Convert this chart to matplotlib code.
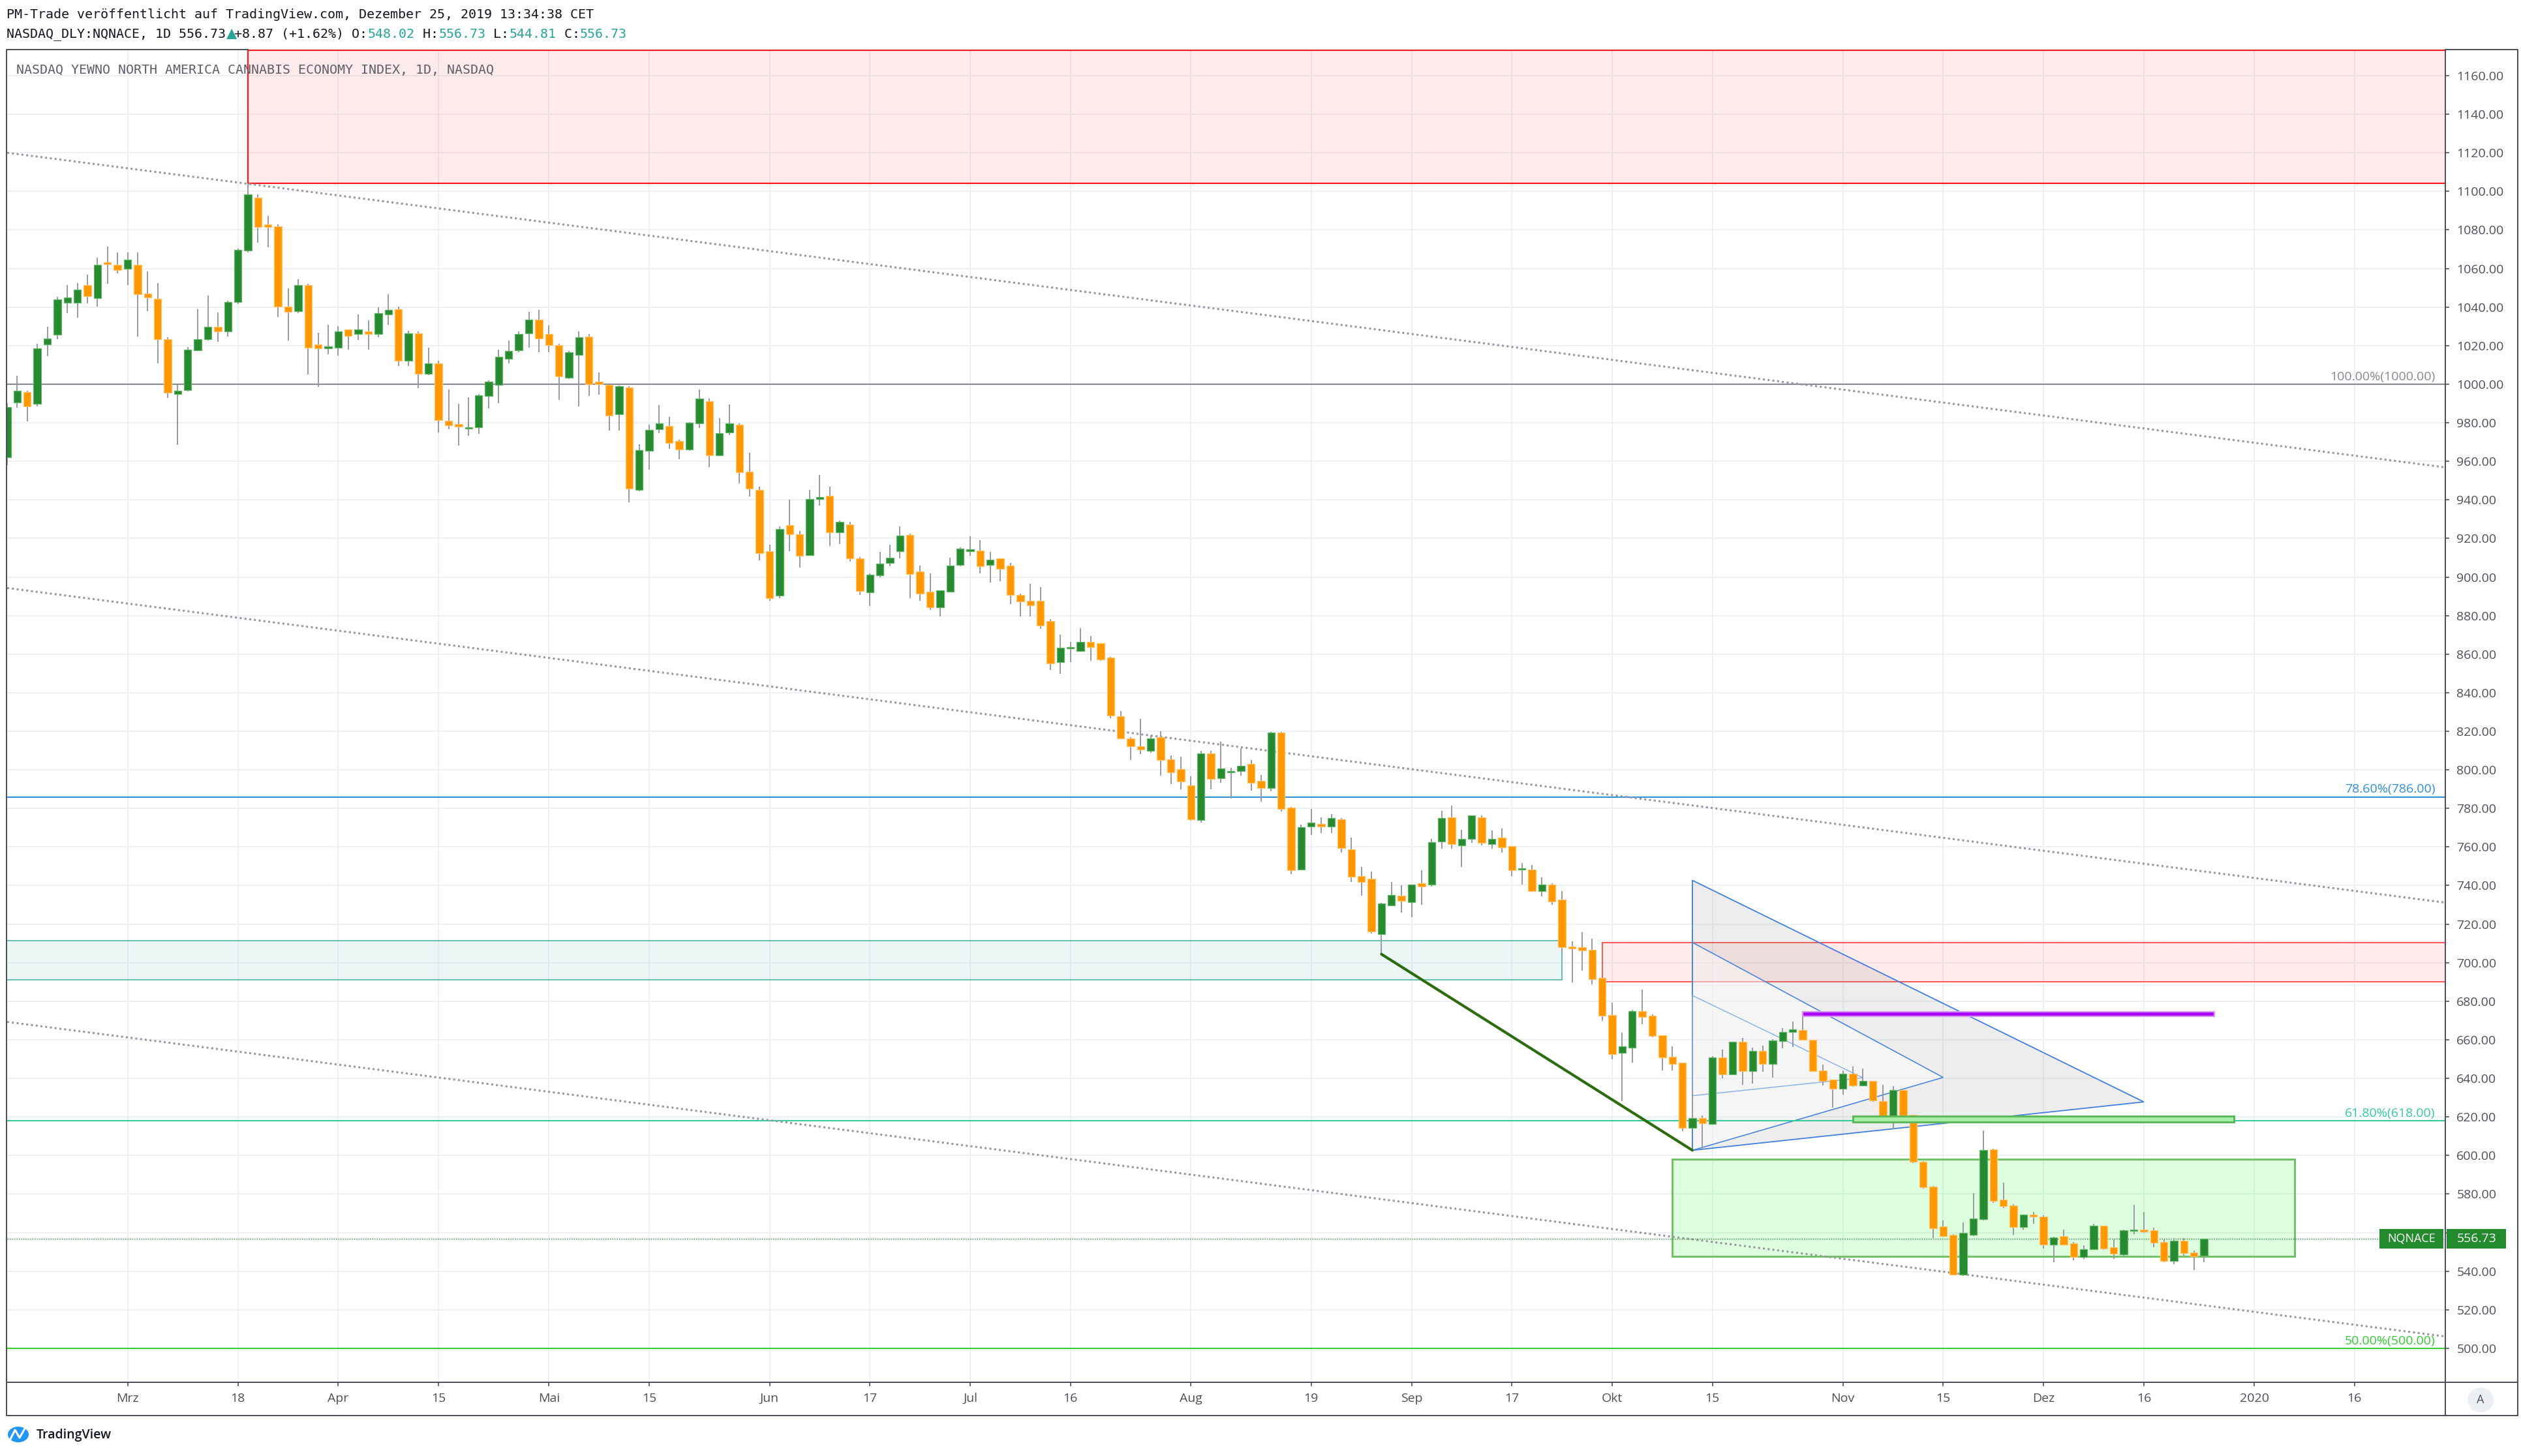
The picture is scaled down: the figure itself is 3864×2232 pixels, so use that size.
import matplotlib as mpl
mpl.use('Agg')
import matplotlib.pyplot as plt
from matplotlib.patches import Rectangle, Polygon, Ellipse
from matplotlib.lines import Line2D
from matplotlib.transforms import IdentityTransform
import numpy as np
import pandas as pd

# ---------------- data ----------------
holidays = ['2019-02-18', '2019-04-19', '2019-05-27', '2019-07-04', '2019-09-02',
            '2019-11-28', '2019-12-25', '2020-01-01', '2020-01-20']
cal = pd.bdate_range('2019-02-12', '2020-01-31', freq='C', holidays=holidays)
pos = {d.strftime('%Y-%m-%d'): i for i, d in enumerate(cal)}

opens = [
    962, 990.5, 995.9, 989.8, 1020.6, 1025.7, 1042.2, 1042.2, 1051.5, 1044.5, 1063.2, 1061.9,
    1059.7, 1061.9, 1047.1, 1044.4, 1023.2, 995, 996.9, 1017.5, 1023.2, 1029.6, 1027.4, 1042.6, 1069.2, 1096.7, 1083, 1081.9, 1040.2, 1038, 1051.5, 1020.7, 1018.7,
    1019, 1028.3, 1026.1, 1027.4, 1026.1, 1036, 1039, 1012, 1026.5, 1005.5, 1010.7, 981.1, 979.4, 976.8, 977.5, 994, 999.7, 1013.3, 1017.4, 1026.4, 1033.6,
    1025.9, 1020.3, 1003.2, 1015.2, 1024.8, 1001.4, 999.5, 984.3, 998.4, 945.2, 965.4, 976.6, 978.2, 970.6, 966, 979.6, 991.3, 963.1, 974.9, 978.9, 954.7, 945.1,
    913.2, 890.2, 926.8, 922, 911.5, 940.5, 942.2, 923.3, 927.2, 909.5, 892, 900.8, 907.4, 913.3, 921.9, 903, 892.4, 884.3, 892.5, 906.1,
    913.3, 913.8, 906.1, 909.5, 905.9, 890.7, 887.6, 887.6, 877.1, 855.9, 863, 861.6, 866.4, 865.7, 858.1, 827.8, 816.2, 812.3, 809.9, 816.8, 805.6, 800.5,
    792, 774, 808.4, 795.8, 798.7, 799.4, 803.2, 794.4, 790.6, 819.3, 780.3, 748.4, 770.5, 771.9, 770.5, 774.3, 758.9, 744.8, 743.6, 714.9, 729.7, 734.8,
    731.5, 741.2, 740.6, 762.7, 775.4, 760.8, 764.3, 775.4, 761.5, 764.7, 760.6, 748.3, 748.3, 737.1, 740.6, 732.8, 708.5, 707.9, 706.8, 692,
    673, 653.2, 656.1, 674.9, 672.6, 662.3, 651.1, 648.3, 614.3, 619.3, 616.5, 650.7, 642.2, 658.9, 643.9, 654.3, 647.5, 659.3, 664.1, 665, 660, 644.2, 639.4,
    634.5, 642.4, 636.3, 638.8, 628.1, 617.4, 634.1, 621, 596.8, 583.8, 563.4, 559, 538.2, 558.9, 567, 603, 577.1, 574.1, 563, 569.4,
    568.3, 553.7, 558.2, 554.6, 547.2, 551.4, 563.6, 552.3, 548.7, 560.8, 561.7, 561.1, 555.1, 545.2, 555.7, 549.8, 548.02,
]
highs = [
    990, 1004.5, 996.5, 1021, 1029.7, 1045.4, 1051.5, 1052.5, 1056.8, 1065.6, 1071.4, 1068.3,
    1068.3, 1068.3, 1058.6, 1052.5, 1024.2, 999.7, 1019.4, 1039, 1046, 1037.3, 1043.2, 1070.3, 1104, 1098.5, 1087.3, 1082.8, 1049.7, 1054.4, 1051.9, 1026.8, 1030.9,
    1030.2, 1028.4, 1036, 1033.2, 1039.9, 1046.7, 1040.3, 1027.8, 1027.2, 1019, 1012, 997.4, 989.7, 993.3, 995, 1001.9, 1017.8, 1022.7, 1027.2, 1037.5, 1038.6,
    1030.4, 1021, 1017.1, 1027.2, 1026.1, 1006.2, 999.7, 999.4, 999, 968.8, 978.9, 989, 983.1, 971.3, 980.5, 997.3, 992.4, 982.5, 989.6, 979.5, 964.3, 946.8,
    916.8, 926.3, 940, 924, 945.3, 953, 947, 929.3, 928.5, 910.2, 901.8, 913.1, 916.7, 926.2, 922.5, 905.9, 901.8, 892.9, 910.1, 915.4,
    921, 919.1, 913.1, 909.5, 907.3, 891.4, 896.6, 894.9, 878.2, 870.1, 866.4, 873.6, 869.4, 865.7, 858.6, 830.4, 817.1, 826.4, 817.9, 819.9, 807.4, 806.8,
    796.8, 809.9, 809.9, 814.7, 801, 811.1, 805, 797.4, 819.7, 819.7, 780.9, 771.5, 779.7, 775.5, 777, 774.9, 765, 749.6, 747.2, 731.2, 741.8, 740,
    740.6, 747.8, 764.3, 778.7, 781.6, 769, 776.2, 776.2, 768.5, 769.7, 760.6, 751.8, 750.6, 744.3, 741.2, 737.1, 711.2, 715.8, 712.4, 692,
    679.2, 663.6, 675.5, 686.1, 673.2, 662.3, 656.7, 648.3, 634.3, 620.6, 651.5, 655, 658.9, 661, 656, 657.1, 660.2, 666.1, 669.6, 674.3, 660, 647.3, 639.4,
    644.2, 646.2, 645, 638.8, 636.6, 636, 634.1, 621, 597.2, 584.1, 566.4, 559.3, 565.2, 580.6, 613, 603.6, 585.9, 574.6, 569.4, 570.6,
    568.9, 558, 561.7, 555.1, 553.4, 564.7, 563.6, 556.6, 561.7, 574.3, 570.7, 562.5, 556.5, 557, 557, 550.6, 556.73,
]
lows = [
    958, 987.8, 980.8, 988.4, 1014.5, 1023.3, 1037, 1034.5, 1042, 1040.3, 1051.9, 1057.4,
    1051.5, 1024.5, 1038, 1010.9, 992.7, 968.5, 996.3, 1017.5, 1022.7, 1022, 1024.5, 1041.6, 1068.3, 1073.4, 1070.9, 1034.9, 1022.7, 1037, 1004.9, 998.5, 1015.6,
    1014.9, 1017.8, 1022.9, 1017.8, 1024.2, 1030.6, 1009.4, 1009.4, 997.8, 1004.6, 975, 976.6, 968, 973.1, 974.4, 987.5, 990.1, 1010.9, 1016.7, 1019, 1016.7,
    1016.7, 992, 1002.7, 988.5, 993.8, 994.4, 976.1, 976.1, 938.7, 944.5, 955.8, 974.7, 966.4, 961.2, 965.5, 977.2, 956.9, 963.1, 973.6, 948.7, 941.7, 908.7,
    887.8, 889.1, 913.3, 904.8, 910.9, 936.9, 916.1, 917.2, 907.8, 890.7, 884.9, 900, 905.5, 909.6, 889, 887.6, 883, 879.4, 892.5, 905.5,
    910.9, 901.8, 897.2, 897.9, 886.1, 879.4, 879.4, 873, 851.7, 849.8, 855.9, 861.3, 856.4, 856.4, 826.7, 815.9, 805, 808, 808.7, 797, 792.6, 790,
    773.7, 772.7, 790, 793.3, 785.2, 797, 789.1, 783.3, 789, 778.5, 746, 747.8, 766.1, 767.3, 767.3, 757.2, 742, 734.9, 715.3, 704.4, 729.7, 726.1,
    723.7, 729.9, 739.6, 759.1, 759.1, 749.6, 762.1, 760.8, 759.1, 757.2, 745, 740.6, 737.1, 734.3, 729.9, 705.5, 689.9, 695.8, 688.6, 669.9,
    650, 628.2, 648.3, 668, 661.3, 644.2, 644.2, 612.5, 614.3, 603, 615.9, 640.2, 642.2, 636.8, 637.4, 643.3, 640.3, 655.7, 656.3, 659.9, 643.9, 636.3, 624.7,
    631.5, 635.7, 636.3, 627.8, 616.8, 613.8, 617.4, 596, 583, 557, 557.7, 538, 537.6, 558.2, 566.4, 575.4, 572.6, 558.9, 561.7, 564.7,
    551.7, 544.6, 553.7, 545.8, 546.4, 551.4, 551.2, 546.4, 547.8, 559.3, 560, 552.3, 544.6, 543.5, 548, 540.5, 544.81,
]
closes = [
    988, 996.5, 988.5, 1018.4, 1023.8, 1043.8, 1044.8, 1048.9, 1045.8, 1061.9, 1062.2, 1059.2,
    1064.7, 1046.7, 1045, 1023.3, 995.6, 996.5, 1017.8, 1023.2, 1029.6, 1027.4, 1042.5, 1069.6, 1098.5, 1081.5, 1081.5, 1040.3, 1037.5, 1051.5, 1019, 1018.7, 1019.7,
    1027.2, 1025.1, 1028.3, 1026.1, 1036.7, 1038.4, 1012, 1026.5, 1005.5, 1010.7, 981.5, 978.5, 978.1, 977.2, 994.2, 1001.3, 1014.3, 1017.1, 1026.1, 1033.6, 1023.8,
    1020.3, 1003.9, 1016.5, 1024.2, 1000, 999.8, 983.8, 999, 945.9, 965.8, 976.4, 979.5, 969.6, 966, 980, 992.4, 963.1, 974.6, 979.5, 954.2, 945.9, 912.2,
    889.1, 925, 922.2, 910.9, 940.4, 941.6, 923.3, 928.6, 909.7, 892.6, 901.3, 907.1, 910.1, 921.4, 901.5, 891.4, 884.3, 892.9, 905.9, 914.8,
    914.4, 905.5, 909, 904.3, 890.7, 887.3, 885.4, 874.8, 855.3, 863.3, 863.5, 866.4, 863.6, 857.1, 828.1, 816.3, 812.3, 810.5, 816.2, 805, 798.7, 794,
    774.3, 808.4, 795.2, 800.8, 799.1, 802, 793.3, 790.6, 819.3, 779.7, 747.8, 770.3, 772.5, 770.5, 774.9, 759.3, 744.4, 742, 716.1, 730.6, 735.2, 732.1,
    740.6, 739.6, 762.5, 775, 761.5, 764.2, 776.2, 762.2, 764.2, 759.7, 748.1, 749, 737.1, 740.6, 731.8, 708, 707.5, 706.4, 691.5, 672.6,
    652.6, 656.5, 674.9, 672, 662, 650.7, 647.5, 614.3, 619.3, 616.7, 650.7, 642.2, 658.9, 643.9, 654.3, 647.5, 659.5, 664.2, 665.5, 659.9, 643.9, 638.6, 634.5,
    642.4, 636.3, 638.8, 628.5, 618, 634.1, 620.8, 596.6, 583.4, 562.3, 558.1, 538.2, 559.8, 567.4, 602.9, 576.6, 573.7, 563, 569.4, 568.3,
    553.7, 557.4, 553.7, 547.2, 551.5, 563.6, 551.7, 548.9, 561.1, 561.7, 560.7, 554.8, 545.2, 555.7, 549.5, 547.8, 556.73,
]
assert len(opens) == len(highs) == len(lows) == len(closes) == 220

tick_dates = ['2019-03-01', '2019-03-18', '2019-04-01', '2019-04-15', '2019-05-01', '2019-05-15',
              '2019-06-03', '2019-06-17', '2019-07-01', '2019-07-16', '2019-08-01', '2019-08-19',
              '2019-09-03', '2019-09-17', '2019-10-01', '2019-10-15', '2019-11-01', '2019-11-15',
              '2019-12-02', '2019-12-16', '2020-01-02', '2020-01-16']
tick_labels = ['Mrz', '18', 'Apr', '15', 'Mai', '15', 'Jun', '17', 'Jul', '16', 'Aug', '19',
               'Sep', '17', 'Okt', '15', 'Nov', '15', 'Dez', '16', '2020', '16']

fib_prices = [1000, 786, 618, 500]
fib_texts = ['100.00%(1000.00)', '78.60%(786.00)', '61.80%(618.00)', '50.00%(500.00)']
fib_colors = ['#868993', '#2f8fd8', '#36c99a', '#33cc33']

# zones: (start date, end date, low, high); None = runs off the chart edge
red_zone_top = ('2019-03-19', None, 1104.2, 1173.0)
red_zone_mid = ('2019-09-30', None, 690.1, 710.3)
teal_zone = (None, '2019-09-24', 691.1, 711.4)
green_zone = ('2019-10-09', '2020-01-08', 547.8, 598.0)
green_strip = ('2019-11-04', '2019-12-30', 617.4, 620.3)
purple_strip = ('2019-10-28', '2019-12-26', 672.3, 674.4)

trend_dates = ['2019-08-28', '2019-10-11']
trend_prices = [704.4, 602.7]

# dotted channel: price of each line on two anchor dates
channel_dates = ['2019-02-12', '2019-12-24']
channel_prices = [(1120.0, 973.0), (894.3, 747.3), (669.3, 522.3)]

tri_big = [('2019-10-11', 742.7), ('2019-12-16', 627.8), ('2019-10-11', 602.7)]
tri_mid = [('2019-10-11', 710.5), ('2019-11-15', 640.5), ('2019-10-11', 602.7)]
tri_small = [('2019-10-11', 683.0), ('2019-11-05', 640.3), ('2019-10-11', 631.0)]

# ---------------- figure ----------------
plt.rcParams['font.family'] = ['Open Sans', 'DejaVu Sans']
W, H = 3864, 2232
fig = plt.figure(figsize=(W / 100, H / 100), dpi=100)
fig.patch.set_facecolor('white')

L, R, T, B = 11, 3748, 76, 2119
ax = fig.add_axes([L / W, 1 - B / H, (R - L) / W, (B - T) / H])
ax.set_xlim(0, (R - L) / 15.375)
ax.set_ylim(482.4, 1173.5)
xl = ax.get_xlim()
for s in ax.spines.values():
    s.set_visible(False)

axis_col = '#50535e'
ax.set_xticks([pos[d] for d in tick_dates])
ax.set_xticklabels(tick_labels)
ax.set_yticks(np.arange(500, 1161, 20))
ax.set_yticklabels(['%.2f' % v for v in np.arange(500, 1161, 20)])
ax.yaxis.tick_right()
ax.tick_params(axis='x', direction='out', length=4.5, width=1.2, color=axis_col,
               labelcolor='#4c4f59', labelsize=14, pad=7)
ax.tick_params(axis='y', direction='out', length=4.5, width=1.2, color=axis_col,
               labelcolor='#4c4f59', labelsize=14, pad=8)
ax.grid(True, color='#edf1f6', lw=1.4)
ax.set_axisbelow(True)


def xr(d, default):
    return default if d is None else pos[d]


def zone(z, fc, ec, lw, zo=1.5):
    x_a = xr(z[0], xl[0] - 5)
    x_b = xr(z[1], xl[1] + 5)
    ax.add_patch(Rectangle((x_a, z[2]), x_b - x_a, z[3] - z[2], facecolor=fc,
                           edgecolor=ec, lw=lw, zorder=zo))


zone(red_zone_top, (1, 0, 0, 0.08), '#ff1a1a', 1.6)
zone(red_zone_mid, (1, 0, 0, 0.08), '#ff3b3b', 1.2)
zone(teal_zone, (0.15, 0.65, 0.6, 0.09), '#4fb3a9', 1.2)
zone(green_zone, (0.0, 1.0, 0.0, 0.13), '#6abf5e', 2.0)

# fib levels
for p, t, c in zip(fib_prices, fib_texts, fib_colors):
    ax.axhline(p, color=c, lw=1.5, zorder=2)
    ax.annotate(t, xy=(1, p), xycoords=('axes fraction', 'data'), xytext=(-11, 1.5),
                textcoords='offset points', ha='right', va='bottom', color=c, fontsize=14)

# dotted channel lines
a0, a1 = pos[channel_dates[0]], pos[channel_dates[1]]
for p0, p1 in channel_prices:
    k = (p1 - p0) / (a1 - a0)
    ax.plot([xl[0], xl[1]], [p0 + k * (xl[0] - a0), p0 + k * (xl[1] - a0)],
            color='#9598a1', lw=2.2, ls=(0, (1, 1.4)), zorder=2)

# triangles
def tri(pts, fc, ec, lw):
    xy = [(pos[d], p) for d, p in pts]
    ax.add_patch(Polygon(xy, closed=True, facecolor=fc, edgecolor=ec, lw=lw, zorder=1.8))


tri(tri_big, (0.55, 0.55, 0.55, 0.15), '#3f7fe0', 1.3)
tri(tri_mid, (1, 1, 1, 0.45), '#3f7fe0', 1.1)
tri(tri_small, 'none', '#86aee8', 1.0)

# green trend line
ax.plot([pos[d] for d in trend_dates], trend_prices, color='#2c6c10', lw=3.0,
        solid_capstyle='round', zorder=5)

# candles
o = np.array(opens); h = np.array(highs); lo = np.array(lows); c = np.array(closes)
x = np.arange(len(c))
up = c >= o
ax.vlines(x, lo, h, color='#979aa2', lw=1.4, zorder=3)
bot = np.minimum(o, c)
hgt = np.maximum(np.abs(c - o), 0.7)
ax.bar(x[up], hgt[up], bottom=bot[up], width=0.74, color='#278a31', edgecolor='#63b566',
       lw=0.9, zorder=4)
ax.bar(x[~up], hgt[~up], bottom=bot[~up], width=0.74, color='#ff9800', edgecolor='#ffc468',
       lw=0.9, zorder=4)

zone(green_strip, '#a8f0a8', '#5cb85c', 2.2, zo=4.5)
zone(purple_strip, '#aa00ff', '#d596f3', 1.6, zo=4.5)

# last price line
last_close = closes[-1]
ax.axhline(last_close, color='#1f7a2a', lw=1.0, ls=(0, (1, 1.5)), zorder=2)

# ---------------- frame ----------------
fc = '#4a4d57'
def fline(xs, ys, lw=1.4):
    fig.add_artist(Line2D([v / W for v in xs], [1 - v / H for v in ys],
                          transform=fig.transFigure, color=fc, lw=lw, zorder=6))


# top border stops where the red zone's own edge takes over
red_px, _ = ax.transData.transform((pos[red_zone_top[0]], 0))
fline([red_px, 10, 10, 3859], [76, 76, 2170, 2170])
fline([R, 3859, 3859], [76, 76, 2170])
fline([R, R], [76, 2170])
fline([10, 3859], [B, B])

# price labels on the axis
_, py = ax.transData.transform((0, last_close))
box_g = '#238b2d'
fig.add_artist(Rectangle((3647, py - 15), 98, 30, transform=IdentityTransform(),
                         facecolor=box_g, edgecolor='none', zorder=7))
fig.add_artist(Rectangle((3750, py - 15), 91, 30, transform=IdentityTransform(),
                         facecolor=box_g, edgecolor='none', zorder=7))
fig.text(3696, py, 'NQNACE', transform=IdentityTransform(), ha='center', va='center',
         color='white', fontsize=13, zorder=8)
fig.text(3796, py, '%.2f' % last_close, transform=IdentityTransform(), ha='center',
         va='center', color='white', fontsize=14, zorder=8)

# "A" button
fig.add_artist(Ellipse((3802, H - 2146), 40, 38, transform=IdentityTransform(),
                       facecolor='#eceff4', edgecolor='none', zorder=7))
fig.text(3802, H - 2146, 'A', transform=IdentityTransform(), ha='center', va='center',
         color=axis_col, fontsize=13, zorder=8)

# ---------------- header texts ----------------
mono = 'DejaVu Sans Mono'
fs = 14.4
cw = 0.602 * fs * 100 / 72
fig.text(10 / W, 1 - 22 / H, 'PM-Trade veröffentlicht auf TradingView.com, Dezember 25, 2019 13:34:38 CET',
         family=mono, fontsize=fs, color='#131722', va='center')
teal = '#26a69a'
parts = [('NASDAQ_DLY:NQNACE, 1D 556.73', '#131722'), ('▲', teal), ('+8.87 (+1.62%) O:', '#131722'),
         ('548.02', teal), (' H:', '#131722'), ('556.73', teal), (' L:', '#131722'),
         ('544.81', teal), (' C:', '#131722'), ('556.73', teal)]
cx = 10
for s, col in parts:
    size = fs * 1.35 if s == '▲' else fs
    fig.text(cx / W, 1 - 52 / H, s, family=mono, fontsize=size, color=col, va='center')
    cx += len(s) * cw
fig.text(25 / W, 1 - 108 / H, 'NASDAQ YEWNO NORTH AMERICA CANNABIS ECONOMY INDEX, 1D, NASDAQ',
         family=mono, fontsize=fs, color='#5d606b', va='center', zorder=8)

# TradingView logo
fig.add_artist(Ellipse((28, H - 2199), 32, 24, transform=IdentityTransform(),
                       facecolor='#2196f3', edgecolor='none', zorder=7))
fig.add_artist(Line2D([16, 23, 30, 38], [H - 2206, H - 2192, H - 2204, H - 2190],
                      transform=IdentityTransform(), color='white', lw=2.2, zorder=8))
fig.text(56, H - 2200, 'TradingView', transform=IdentityTransform(), ha='left', va='center',
         color='#131722', fontsize=14, fontweight='semibold')

fig.savefig('out.png', dpi=100, facecolor='white')
